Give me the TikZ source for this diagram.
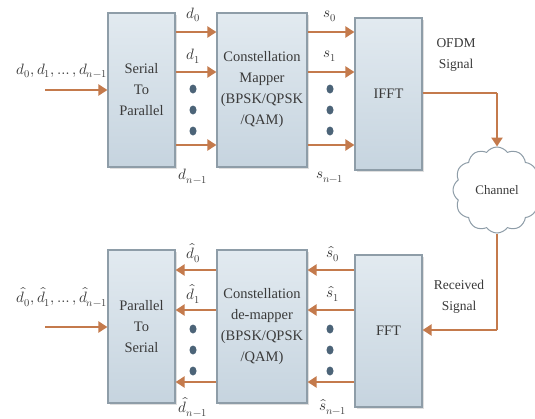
\documentclass[tikz,border=0pt]{standalone}
\usepackage{fontspec}
\usepackage{unicode-math}
\setmainfont{Liberation Serif}
\setmathfont{Latin Modern Math}
\usetikzlibrary{arrows.meta,shapes.symbols,shadows,calc}

\definecolor{boxedge}{HTML}{8E9DA8}
\definecolor{boxtop}{HTML}{E2EAF0}
\definecolor{boxbot}{HTML}{C6D4DF}
\definecolor{flow}{HTML}{C47A4C}
\definecolor{dotc}{HTML}{4C6478}
\definecolor{ink}{HTML}{3A3A3A}

\tikzset{
  block/.style={draw=boxedge, line width=1.2pt, top color=boxtop, bottom color=boxbot,
    align=center, text=ink, font=\fontsize{14.5}{21}\selectfont,
    drop shadow={opacity=0.25, shadow xshift=2pt, shadow yshift=-2pt}},
  flowarrow/.style={draw=flow, line width=2.8pt, -{Triangle[length=9pt,width=11pt]}},
  flowline/.style={draw=flow, line width=2.4pt},
  lbl/.style={text=ink, font=\fontsize{15}{17}\selectfont, inner sep=0pt},
  vdot/.style={fill=dotc},
  chan/.style={cloud, cloud puffs=12, cloud puff arc=110, draw=boxedge, line width=1pt, fill=white,
    minimum width=88pt, minimum height=86pt, aspect=1, text=ink, font=\fontsize{13}{15}\selectfont},
}

\begin{document}
\begin{tikzpicture}[x=1pt,y=-1pt]
\useasboundingbox (0,0) rectangle (535,418);
\fill[white] (0,0) rectangle (535,418);

% transmitter chain
\node[block, minimum width=67pt, minimum height=154pt] (sp)  at (141.5,90)  {Serial\\To\\Parallel};
\node[block, minimum width=90pt, minimum height=154pt] (map) at (262,90)    {Constellation\\Mapper\\(BPSK/QPSK\\/QAM)};
\node[block, minimum width=67pt, minimum height=152pt] (ifft) at (388.5,94) {IFFT};

% receiver chain
\node[block, minimum width=67pt, minimum height=153pt] (ps)    at (141.5,326.5) {Parallel\\To\\Serial};
\node[block, minimum width=90pt, minimum height=153pt] (demap) at (262,326.5)   {Constellation\\de-mapper\\(BPSK/QPSK\\/QAM)};
\node[block, minimum width=67pt, minimum height=152pt] (fft)   at (388.5,331)   {FFT};

% channel
\node[chan] (ch) at (497,190) {Channel};

% input bit stream
\coordinate (in) at (45,90);
\draw[flowarrow] (in) -- (sp.west |- in);
\node[lbl] (inl) at (62,71) {$d_0,d_1,\ldots,d_{n-1}$};

% parallel streams into the mapper
\coordinate (t0) at (0,32);
\coordinate (t1) at (0,72);
\coordinate (tn) at (0,145);
\foreach \c in {t0,t1,tn}{
  \draw[flowarrow] (sp.east |- \c) -- (map.west |- \c);
  \draw[flowarrow] (map.east |- \c) -- (ifft.west |- \c);
}
\foreach \y in {89,110,131}{
  \fill[vdot] (193,\y) ellipse [x radius=3.5pt, y radius=4.5pt];
  \fill[vdot] (330,\y) ellipse [x radius=3.5pt, y radius=4.5pt];
}
\node[lbl] (ld0) at (193,15)  {$d_0$};
\node[lbl] (ld1) at (193,56)  {$d_1$};
\node[lbl] (ldn) at (193,176) {$d_{n-1}$};
\node[lbl] (ls0) at (330,16)  {$s_0$};
\node[lbl] (ls1) at (330,56)  {$s_1$};
\node[lbl] (lsn) at (330,177) {$s_{n-1}$};

% IFFT to channel
\coordinate (tx) at (497,93);
\draw[flowline] (ifft.east |- tx) -- (tx);
\draw[flowarrow] (tx) -- (ch.north);
\node[lbl, align=center, font=\fontsize{13.5}{21}\selectfont] (ofdm) at (456,55) {OFDM\\Signal};

% channel to FFT
\coordinate (rx) at (497,330);
\draw[flowline] (ch.south) -- (rx);
\draw[flowarrow] (rx) -- (fft.east |- rx);
\node[lbl, align=center, font=\fontsize{13.5}{21}\selectfont] (recv) at (459,297) {Received\\Signal};

% parallel streams out of the FFT
\coordinate (r0) at (0,270);
\coordinate (r1) at (0,310);
\coordinate (rn) at (0,382);
\foreach \c in {r0,r1,rn}{
  \draw[flowarrow] (fft.west |- \c) -- (demap.east |- \c);
  \draw[flowarrow] (demap.west |- \c) -- (ps.east |- \c);
}
\foreach \y in {329,350,371}{
  \fill[vdot] (193,\y) ellipse [x radius=3.5pt, y radius=4.5pt];
  \fill[vdot] (330,\y) ellipse [x radius=3.5pt, y radius=4.5pt];
}
\node[lbl] (lhd0) at (193,253) {$\hat{d}_0$};
\node[lbl] (lhd1) at (193,294) {$\hat{d}_1$};
\node[lbl] (lhdn) at (193,407) {$\hat{d}_{n-1}$};
\node[lbl] (lhs0) at (333,254) {$\hat{s}_0$};
\node[lbl] (lhs1) at (333,294) {$\hat{s}_1$};
\node[lbl] (lhsn) at (333,407) {$\hat{s}_{n-1}$};

% bit stream beside the parallel-to-serial block
\coordinate (out) at (45,327);
\draw[flowarrow] (out) -- (ps.west |- out);
\node[lbl] (outl) at (62,297) {$\hat{d}_0,\hat{d}_1,\ldots,\hat{d}_{n-1}$};
\end{tikzpicture}
\end{document}
